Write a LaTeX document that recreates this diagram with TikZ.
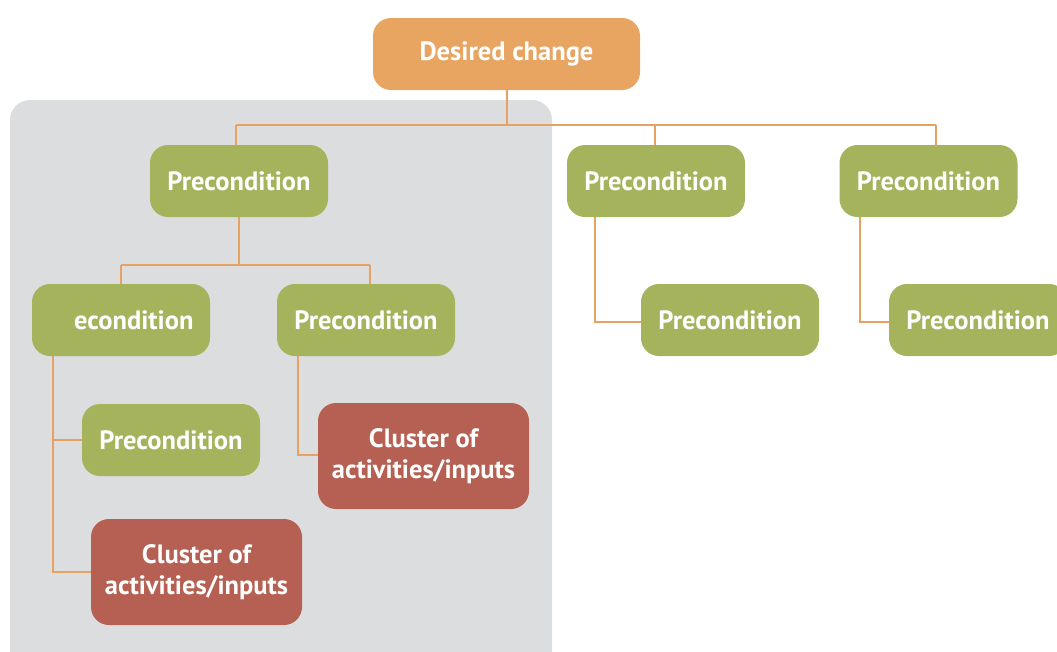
\documentclass[tikz,border=0pt]{standalone}
\usepackage{fontspec}
\setmainfont{PT Sans}
\usetikzlibrary{positioning}

\definecolor{changeorange}{HTML}{E8A461}
\definecolor{precgreen}{HTML}{A5B35C}
\definecolor{clusterred}{HTML}{B56052}
\definecolor{linkorange}{HTML}{E9A162}
\definecolor{boxgray}{HTML}{DCDDDF}

\begin{document}
\begin{tikzpicture}
[x=1pt,y=-1pt,%
  every node/.style={shape=rectangle,rounded corners=18pt,text=white,
    font=\fontsize{26.5}{31}\selectfont\bfseries,align=center,inner sep=0pt},%
  change/.style={fill=changeorange,minimum width=267pt,minimum height=72pt},%
  prec/.style={fill=precgreen,minimum width=178pt,minimum height=72pt},%
  cluster/.style={fill=clusterred,minimum width=211pt,minimum height=106pt},%
  link/.style={draw=linkorange,line width=2pt}]
\useasboundingbox (0,0) rectangle (1057,651);
\clip (0,0) rectangle (1057,651);
% shaded part of the tree
\fill[boxgray,rounded corners=20pt] (10,100) rectangle (552,680);
% joints of the connectors
\coordinate (top) at (507,125);
\coordinate (mid) at (239,265);
% lines first, boxes on top
\draw[link] (507,90) -- (top);
\draw[link] (236,125) -- (936,125);
\draw[link] (236,125) -- (236,150);
\draw[link] (655,125) -- (655,150);
\draw[link] (936,125) -- (936,150);
\draw[link] (239,210) -- (mid);
\draw[link] (121,265) -- (370,265);
\draw[link] (121,265) -- (121,290);
\draw[link] (370,265) -- (370,290);
\draw[link] (53,350) -- (53,572) -- (100,572);
\draw[link] (53,440) -- (90,440);
\draw[link] (298,350) -- (298,455) -- (325,455);
\draw[link] (595,210) -- (595,322) -- (650,322);
\draw[link] (860,210) -- (860,322) -- (895,322);
% boxes
\node[change] (dc) at (506.5,54) {Desired change};
\node[prec] (p1) at (239,181) {Precondition};
\node[prec] (p2) at (656,181) {Precondition};
\node[prec] (p3) at (928.5,181) {Precondition};
\node[prec,text width=145pt,align=right] (p11) at (121,320) {econdition};
\node[prec] (p12) at (366,320) {Precondition};
\node[prec] (p111) at (171,440) {Precondition};
\node[cluster] (c12) at (423.5,456) {Cluster of\\activities/inputs};
\node[cluster] (c11) at (196.5,572) {Cluster of\\activities/inputs};
\node[prec] (p21) at (730,320) {Precondition};
\node[prec] (p31) at (978,320) {Precondition};
\end{tikzpicture}
\end{document}
